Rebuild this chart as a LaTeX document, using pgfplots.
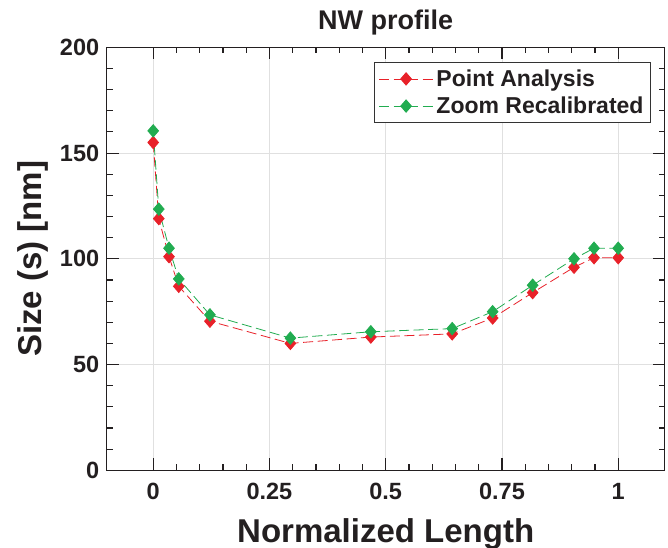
\documentclass[border=0pt]{standalone}
\usepackage{fontspec}
\setmainfont{Liberation Sans}
\usepackage{pgfplots}
\pgfplotsset{compat=1.18}
\definecolor{cred}{RGB}{232,33,41}
\definecolor{cgreen}{RGB}{33,172,80}
\definecolor{axcol}{RGB}{35,31,32}
\begin{document}
\begin{tikzpicture}
\useasboundingbox (-106.7pt,-76.7pt) rectangle (561.3pt,470.3pt);
\begin{axis}[
  scale only axis, width=558pt, height=423pt,
  xmin=-0.1, xmax=1.1, ymin=0, ymax=200,
  xtick={0,0.25,0.5,0.75,1}, xticklabels={0,0.25,0.5,0.75,1},
  ytick={0,50,100,150,200},
  minor x tick num=4, minor y tick num=4,
  tick align=inside, major tick length=12pt, minor tick length=6pt,
  axis line style={axcol, line width=1.1pt},
  every tick/.style={axcol, line width=1.1pt},
  xmajorgrids, ymajorgrids,
  major grid style={color=black!12, line width=0.9pt},
  /pgf/number format/assume math mode=true,
  tick label style={font=\fontsize{23.5}{26}\selectfont\bfseries, text=axcol},
  xticklabel style={yshift=-9pt},
  yticklabel style={xshift=-4pt},
  title={NW profile},
  title style={font=\fontsize{27}{30}\selectfont\bfseries, text=axcol, at={(axis description cs:0.5,1)}, anchor=base, yshift=12.3pt},
  xlabel={Normalized Length},
  xlabel style={font=\fontsize{33}{36}\selectfont\bfseries, text=axcol, at={(axis description cs:0.5,0)}, anchor=base, yshift=-72.4pt},
  ylabel={Size (s) [nm]},
  ylabel style={font=\fontsize{33}{36}\selectfont\bfseries, text=axcol, at={(axis description cs:-0.1165,0.5)}, anchor=base},
  legend style={at={(axis description cs:0.9755,0.9645)}, anchor=north east,
    draw=black!80, line width=1pt, font=\fontsize{23}{25}\selectfont\bfseries,
    text=axcol, inner xsep=4pt, inner ysep=5pt, row sep=5pt,
    nodes={inner xsep=3pt}},
  legend cell align=left,
  legend image code/.code={\draw[mark repeat=2,mark phase=2] plot coordinates {(0pt,0pt) (27pt,0pt) (54pt,0pt)};},
]
\addplot[color=cred, line width=0.8pt, dash pattern=on 10pt off 4.5pt, mark=diamond*, mark size=6.2pt, mark options={solid, fill=cred, draw=cred, xscale=1.15}]
coordinates {(0,155) (0.012,119) (0.034,101) (0.055,87) (0.122,70.5) (0.295,60) (0.468,63) (0.643,64.5) (0.730,72) (0.816,84) (0.905,96) (0.948,100.5) (1.0,100.5)};
\addlegendentry{Point Analysis}
\addplot[color=cgreen, line width=0.8pt, dash pattern=on 10pt off 4.5pt, mark=diamond*, mark size=6.2pt, mark options={solid, fill=cgreen, draw=cgreen, xscale=1.15}]
coordinates {(0,160.5) (0.012,123.5) (0.034,105) (0.055,90.5) (0.122,73.5) (0.295,62.5) (0.468,65.5) (0.643,67) (0.730,75) (0.816,87.5) (0.905,100) (0.948,105) (1.0,105)};
\addlegendentry{Zoom Recalibrated}
\end{axis}
\end{tikzpicture}
\end{document}
